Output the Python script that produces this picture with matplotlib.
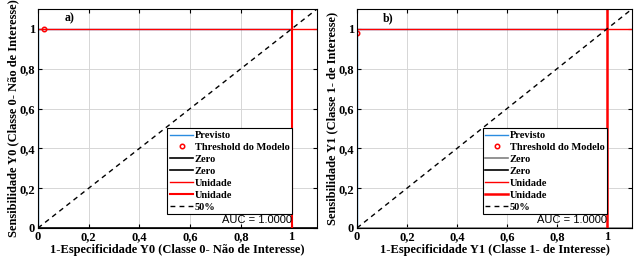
import matplotlib
matplotlib.use("Agg")
import matplotlib.pyplot as plt

# ROC data (perfect classifier in both panels)
fpr_a = [0.0, 0.0, 1.0]
tpr_a = [0.0, 1.0, 1.0]
thr_a = (0.023, 1.0)

fpr_b = [0.0, 0.0, 1.0]
tpr_b = [0.0, 1.0, 1.0]
thr_b = (0.0, 0.978)

auc_a = 1.0
auc_b = 1.0

ticks = [0, 0.2, 0.4, 0.6, 0.8, 1.0]
tick_labels = ["0", "0,2", "0,4", "0,6", "0,8", "1"]

panels = [
    ("a)", fpr_a, tpr_a, thr_a, auc_a,
     "1-Especificidade Y0 (Classe 0- Não de Interesse)",
     "Sensibilidade Y0 (Classe 0- Não de Interesse)", "black", 1.5),
    ("b)", fpr_b, tpr_b, thr_b, auc_b,
     "1-Especificidade Y1 (Classe 1- de Interesse)",
     "Sensibilidade Y1 (Classe 1- de Interesse)", "gray", 1.8),
]

plt.rcParams['font.family'] = ['Liberation Serif', 'DejaVu Serif']
plt.rcParams['font.weight'] = 'bold'
plt.rcParams['axes.labelweight'] = 'bold'

fig = plt.figure(figsize=(6.4, 2.66), dpi=100)
boxes = [[38/640, 38/266, 279/640, 219/266], [357/640, 38/266, 275/640, 219/266]]

for box, (tag, fpr, tpr, thr, auc, xl, yl, zero_col, uni_w) in zip(boxes, panels):
    ax = fig.add_axes(box)
    ax.plot(fpr, tpr, color='#2a8ce0', lw=1.0, label='Previsto')
    ax.plot(thr[0], thr[1], 'o', mfc='none', mec='red', ms=3.2, mew=1.1, label='Threshold do Modelo')
    ax.plot([0, 1.1], [0, 0], color=zero_col, lw=1.2, label='Zero')
    ax.plot([0, 0], [0, 1.1], color='black', lw=1.2, label='Zero')
    ax.axhline(1, color='red', lw=1.0, label='Unidade')
    ax.axvline(1, color='red', lw=uni_w, label='Unidade')
    ax.plot([0, 1.1], [0, 1.1], color='black', ls=(0, (3.5, 3)), lw=1.0, label='50%')
    ax.set_xlim(0, 1.1)
    ax.set_ylim(0, 1.1)
    ax.set_xticks(ticks)
    ax.set_xticklabels(tick_labels)
    ax.set_yticks(ticks)
    ax.set_yticklabels(tick_labels)
    ax.tick_params(direction='in', top=True, right=True, labelsize=9, length=3, pad=2)
    ax.grid(True, color='#d6d6d6', lw=0.7)
    ax.set_axisbelow(True)
    ax.set_xlabel(xl, fontsize=9, labelpad=1)
    ax.set_ylabel(yl, fontsize=9, labelpad=0)
    ax.text(0.105, 1.04, tag, fontsize=8.5, weight='bold')
    leg = ax.legend(loc='lower right', bbox_to_anchor=(0.91, 0.063),
                    prop={'family': 'Liberation Serif', 'weight': 'bold', 'size': 7.5},
                    fancybox=False, framealpha=1, edgecolor='black',
                    handlelength=2.2, handletextpad=0.15, borderpad=0.25,
                    labelspacing=0.25, borderaxespad=0)
    leg.get_frame().set_linewidth(0.8)
    ax.text(0.91, 0.015, 'AUC = %.4f' % auc, transform=ax.transAxes, ha='right', va='bottom',
            fontsize=8, family='Liberation Sans', weight='normal')

fig.savefig('out.png', dpi=100)
